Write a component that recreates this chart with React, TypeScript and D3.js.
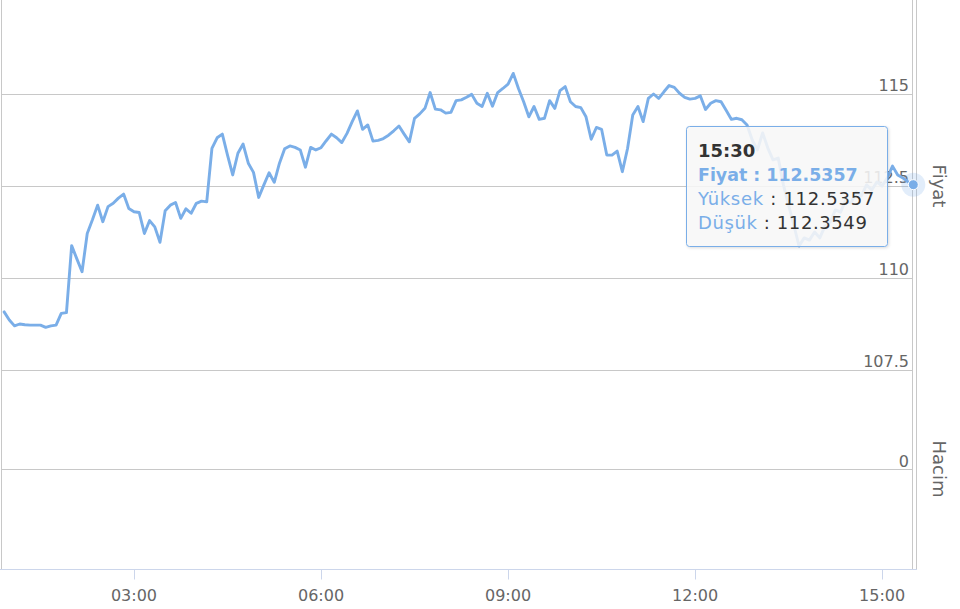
import React from "react";
import * as d3 from "d3";

// ---- data ----
const START_MINUTES = 55; // 00:55
const INTERVAL_MINUTES = 5;
const priceValues: number[] = [
  109.08, 108.86, 108.7, 108.75, 108.73, 108.72, 108.72, 108.72, 108.66, 108.7,
  108.72, 109.04, 109.06, 110.88, 110.52, 110.17, 111.21, 111.58, 111.98, 111.53,
  111.94, 112.03, 112.17, 112.28, 111.89, 111.8, 111.78, 111.21, 111.56, 111.39,
  110.97, 111.83, 111.98, 112.05, 111.62, 111.88, 111.76, 112.03, 112.09, 112.07,
  113.52, 113.81, 113.91, 113.34, 112.8, 113.39, 113.64, 113.12, 112.87, 112.19,
  112.53, 112.86, 112.6, 113.12, 113.51, 113.59, 113.55, 113.48, 113.01, 113.55,
  113.48, 113.54, 113.73, 113.91, 113.81, 113.68, 113.93, 114.25, 114.54, 114.04,
  114.16, 113.72, 113.74, 113.79, 113.88, 114.0, 114.13, 113.91, 113.7, 114.34,
  114.46, 114.61, 115.04, 114.59, 114.57, 114.48, 114.5, 114.82, 114.84, 114.91,
  114.99, 114.75, 114.66, 115.02, 114.67, 115.04, 115.15, 115.27, 115.56, 115.15,
  114.79, 114.38, 114.66, 114.31, 114.34, 114.82, 114.61, 115.09, 115.2, 114.79,
  114.66, 114.63, 114.38, 113.77, 114.09, 114.04, 113.34, 113.34, 113.45, 112.89,
  113.52, 114.43, 114.66, 114.25, 114.88, 115.0, 114.88, 115.06, 115.23, 115.18,
  115.02, 114.91, 114.86, 114.88, 114.95, 114.58, 114.75, 114.82, 114.79, 114.55,
  114.31, 114.34, 114.3, 114.16, 113.75, 113.48, 113.94, 113.53, 113.21, 113.26,
  112.53, 111.98, 111.44, 110.87, 111.09, 111.03, 111.25, 111.09, 111.41, 111.52,
  111.85, 111.79, 112.12, 112.04, 112.34, 112.23, 112.53, 112.39, 112.61, 112.5,
  112.72, 113.04, 112.8, 112.72, 112.61, 112.5357,
];
const priceTicks = [107.5, 110, 112.5, 115];
const volumeTicks = [0];
const timeTickHours = [3, 6, 9, 12, 15];
const priceAxisTitle = "Fiyat";
const volumeAxisTitle = "Hacim";
const tooltipTime = "15:30";
const tooltipPriceLabel = "Fiyat";
const tooltipHighLabel = "Yüksek";
const tooltipLowLabel = "Düşük";
const tooltipHigh = 112.5357;
const tooltipLow = 112.3549;

// ---- layout ----
const W = 960;
const H = 609;
const FONT = "'DejaVu Sans', Verdana, sans-serif";
const LINE_COLOR = "#7aaee8";
const GRID = "#c8c8c8";
const AXIS = "#ccd6eb";
const LABEL = "#666666";

const toDate = (m: number) => new Date(2024, 0, 1, 0, m);

export default function App() {
  const x = d3.scaleTime().domain([toDate(52), toDate(930)]).range([1, 913.3]);
  const yPrice = d3.scaleLinear().domain([107.5, 115]).range([370, 94]);
  const yVol = d3.scaleLinear().domain([-1, 1]).range([569, 369]);

  const times = priceValues.map((_, i) => toDate(START_MINUTES + i * INTERVAL_MINUTES));
  const line = d3
    .line<number>()
    .x((_, i) => x(times[i]))
    .y((d) => yPrice(d));

  const xTicks = timeTickHours.map((h) => new Date(2024, 0, 1, h, 0));
  const fmt = d3.timeFormat("%H:%M");
  const lastI = priceValues.length - 1;
  const px = x(times[lastI]);
  const py = yPrice(priceValues[lastI]);

  const plotLeft = 1;
  const plotRight = 912.5;
  const bottom = 569.5;

  return (
    <svg
      width={W}
      height={H}
      style={{ position: "fixed", left: 0, top: 0, background: "#fff" }}
      fontFamily={FONT}
    >
      <defs>
        <filter id="shadow" x="-10%" y="-10%" width="130%" height="130%">
          <feDropShadow dx="1" dy="1" stdDeviation="1.5" floodColor="#000" floodOpacity="0.15" />
        </filter>
      </defs>
      <rect x={0} y={0} width={W} height={H} fill="#fff" />
      {/* grid lines */}
      {priceTicks.map((t) => (
        <line
          key={"pg" + t}
          x1={plotLeft}
          x2={plotRight}
          y1={Math.round(yPrice(t)) + 0.5}
          y2={Math.round(yPrice(t)) + 0.5}
          stroke={GRID}
          strokeWidth={1}
        />
      ))}
      {volumeTicks.map((t) => (
        <line
          key={"vg" + t}
          x1={plotLeft}
          x2={plotRight}
          y1={Math.round(yVol(t)) + 0.5}
          y2={Math.round(yVol(t)) + 0.5}
          stroke={GRID}
          strokeWidth={1}
        />
      ))}
      {/* frame lines */}
      <line x1={1.5} x2={1.5} y1={0} y2={bottom} stroke={GRID} />
      <line x1={plotRight} x2={plotRight} y1={0} y2={bottom} stroke={GRID} />
      <line x1={916.5} x2={916.5} y1={0} y2={bottom} stroke={GRID} />
      {/* y labels */}
      {priceTicks.map((t) => (
        <text
          key={"pl" + t}
          x={909}
          y={Math.round(yPrice(t)) - 3}
          textAnchor="end"
          fontSize={16}
          fill={LABEL}
        >
          {String(t)}
        </text>
      ))}
      {volumeTicks.map((t) => (
        <text
          key={"vl" + t}
          x={909}
          y={Math.round(yVol(t)) - 2}
          textAnchor="end"
          fontSize={16}
          fill={LABEL}
        >
          {String(t)}
        </text>
      ))}
      {/* axis titles */}
      <text
        transform={`translate(933, ${yPrice(112.5)}) rotate(90)`}
        textAnchor="middle"
        fontSize={18}
        fill={LABEL}
      >
        {priceAxisTitle}
      </text>
      <text
        transform={`translate(933, ${yVol(0)}) rotate(90)`}
        textAnchor="middle"
        fontSize={18}
        fill={LABEL}
      >
        {volumeAxisTitle}
      </text>
      {/* x axis */}
      <line x1={0} x2={917} y1={bottom} y2={bottom} stroke={AXIS} />
      {xTicks.map((d) => (
        <g key={d.getTime()}>
          <line
            x1={Math.round(x(d)) + 0.5}
            x2={Math.round(x(d)) + 0.5}
            y1={bottom}
            y2={bottom + 10}
            stroke={AXIS}
          />
          <text x={x(d)} y={601} textAnchor="middle" fontSize={16} fill={LABEL}>
            {fmt(d)}
          </text>
        </g>
      ))}
      {/* series */}
      <path
        d={line(priceValues) || ""}
        fill="none"
        stroke={LINE_COLOR}
        strokeWidth={2.9}
        strokeLinejoin="round"
        strokeLinecap="round"
      />
      {/* hover marker */}
      <circle cx={px} cy={py} r={12} fill={LINE_COLOR} opacity={0.22} />
      <circle cx={px} cy={py} r={5} fill={LINE_COLOR} stroke="#fff" strokeWidth={1} />
      {/* tooltip */}
      <g>
        <rect
          x={686.5}
          y={126.5}
          width={201}
          height={120}
          rx={3}
          fill="rgba(249,249,249,0.86)"
          stroke={LINE_COLOR}
          strokeWidth={1}
          filter="url(#shadow)"
        />
        <text x={698} y={157} fontSize={18} fontWeight="bold" fill="#333">
          {tooltipTime}
        </text>
        <text x={698} y={181} fontSize={17.4} fontWeight="bold" fill={LINE_COLOR}>
          {`${tooltipPriceLabel} : ${priceValues[lastI].toFixed(4)}`}
        </text>
        <text x={698} y={205} fontSize={18} letterSpacing={0.7}>
          <tspan fill={LINE_COLOR}>{tooltipHighLabel}</tspan>
          <tspan fill="#333">{` : ${tooltipHigh.toFixed(4)}`}</tspan>
        </text>
        <text x={698} y={229} fontSize={18} letterSpacing={0.6}>
          <tspan fill={LINE_COLOR}>{tooltipLowLabel}</tspan>
          <tspan fill="#333">{` : ${tooltipLow.toFixed(4)}`}</tspan>
        </text>
      </g>
    </svg>
  );
}
